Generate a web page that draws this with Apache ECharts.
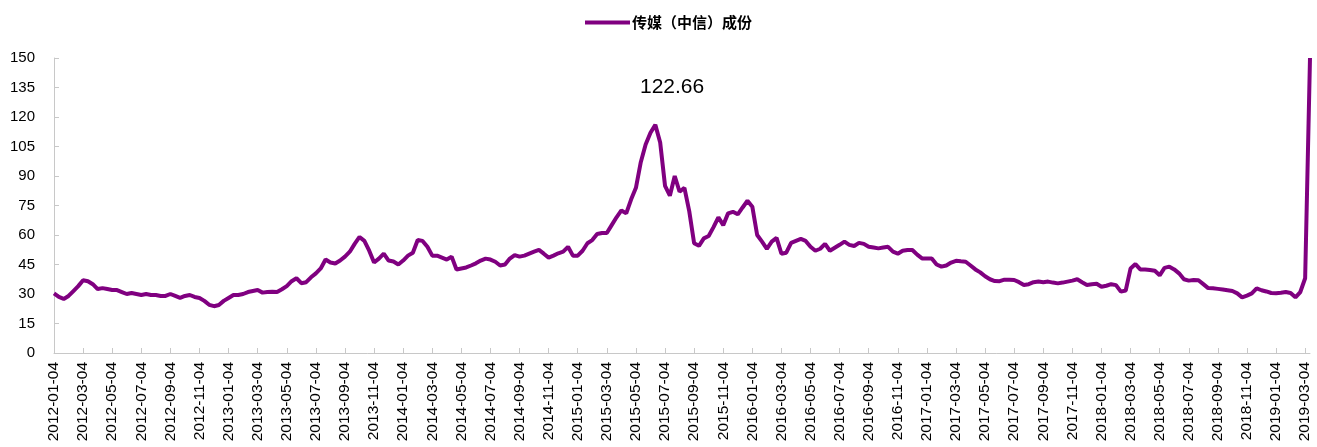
<!DOCTYPE html>
<html>
<head>
<meta charset="utf-8">
<script src="https://cdn.jsdelivr.net/npm/echarts@6/dist/echarts.min.js"></script>
<style>
html,body{margin:0;padding:0;background:#fff;}
#chart{width:1317px;height:447px;}
</style>
</head>
<body>
<div id="chart"></div>
<script>
// Series name
const seriesName = '传媒（中信）成份';
// Peak annotation text
const peakLabel = '122.66';

// Categories: dates on the 4th, 14th and 24th of each month, 2012-01-04 .. 2019-03-14
const categories = [];
(function(){
  const days = ['04','14','24'];
  for (let y = 2012; y <= 2019; y++) {
    for (let m = 1; m <= 12; m++) {
      for (const d of days) {
        const mm = (m < 10 ? '0' : '') + m;
        const s = y + '-' + mm + '-' + d;
        if (s > '2019-03-14') return;
        categories.push(s);
      }
    }
  }
})();

// Tick labels shown on the x axis
const tickLabels = [
  '2012-01-04','2012-03-04','2012-05-04','2012-07-04','2012-09-04','2012-11-04',
  '2013-01-04','2013-03-04','2013-05-04','2013-07-04','2013-09-04','2013-11-04',
  '2014-01-04','2014-03-04','2014-05-04','2014-07-04','2014-09-04','2014-11-04',
  '2015-01-04','2015-03-04','2015-05-04','2015-07-04','2015-09-04','2015-11-04',
  '2016-01-04','2016-03-04','2016-05-04','2016-07-04','2016-09-04','2016-11-04',
  '2017-01-04','2017-03-04','2017-05-04','2017-07-04','2017-09-04','2017-11-04',
  '2018-01-04','2018-03-04','2018-05-04','2018-07-04','2018-09-04','2018-11-04',
  '2019-01-04','2019-03-04'
];

// Values
const values2012_2013 = [
  30.3,28.5,27.5,29,31.5,34,37,36.5,35,32.5,33,32.5,32,32,31,30,30.5,30,29.5,30,
  29.5,29.5,29,29,30,29,28,29,29.5,28.5,28,26.5,24.5,23.8,24.4,26.5,28,29.5,29.5,30,
  31,31.5,32,30.7,31,31.2,31,32.4,34,36.5,38,35.5,36,38.5,40.5,43,47.5,46,45.5,47,
  49,51.5,55.5,59,57,52,46,48,50.5,47,46.5,45
];
const values2014_2015 = [
  47,49.5,51,57.5,57,54,49.5,49.5,48.5,47.5,49,42.5,43,43.5,44.5,45.6,47,48,47.5,46.4,
  44.5,45,48,49.8,49,49.5,50.5,51.5,52.4,50.5,48.5,49.5,50.7,51.5,54,49.5,49.5,52,55.8,57.4,
  60.5,61,61,65,69,72.5,71,78,84,97,106,112,116,107,85,80,90,82,84,72,
  55.8,54.5,58.3,59.5,64,69,65,71,71.8,70.5,74,77.4
];
const values2016_2017 = [
  74.4,60,56.6,53,56.6,58.5,50.5,51,56,57,58,57,54,52,53,55.5,52,53.5,55,56.6,
  55,54.4,56,55.5,54,53.6,53.2,53.6,54,51.5,50.5,52,52.4,52.4,50,48.1,48,48.1,45,43.9,
  44.5,46,46.9,46.6,46.4,44.5,42.5,41,39,37.5,36.6,36.5,37.3,37.2,37.1,36,34.6,35,36,36.3,
  36,36.3,35.8,35.4,35.8,36.3,36.8,37.5,36,34.6,35,35.2
];
const values2018_2019 = [
  33.7,34.2,35,34.5,31.2,31.8,43,45.2,42.5,42.5,42.2,41.8,39.5,43.3,43.9,42.5,40.5,37.5,36.8,37.1,
  37,35,33,32.9,32.6,32.3,31.9,31.5,30.3,28.3,29.2,30.3,32.9,31.9,31.3,30.5,30.4,30.6,31,30.5,
  28.3,31,38,150
];
const values = [].concat(values2012_2013, values2014_2015, values2016_2017, values2018_2019);

// Y axis
const yMin = 0, yMax = 150, yStep = 15;

const chart = echarts.init(document.getElementById('chart'), null, {renderer: 'canvas'});
const isTick = function(index, value){ return tickLabels.indexOf(categories[index]) >= 0; };

chart.setOption({
  animation: false,
  backgroundColor: '#ffffff',
  legend: {
    top: 10,
    left: 580,
    itemWidth: 45,
    itemHeight: 10,
    itemGap: 10,
    textStyle: {fontFamily: 'Noto Sans CJK SC', fontWeight: 'bold', fontSize: 15, color: '#000', padding: [0,0,0,-3]},
    data: [{name: seriesName, icon: 'path://M0,0 L45,0 L45,4 L0,4 Z'}]
  },
  grid: {left: 54, right: 7, top: 58, bottom: 94, containLabel: false},
  xAxis: {
    type: 'category',
    boundaryGap: false,
    data: categories,
    axisLine: {show: true, lineStyle: {color: '#c8c8c8', width: 1}},
    axisTick: {show: true, inside: true, length: 5, interval: isTick, lineStyle: {color: '#c8c8c8'}},
    axisLabel: {
      interval: isTick,
      rotate: 90,
      margin: 9,
      fontFamily: 'Liberation Sans, Arial, sans-serif',
      fontSize: 15.5,
      color: '#000'
    },
    splitLine: {show: false}
  },
  yAxis: {
    type: 'value',
    min: yMin,
    max: yMax,
    interval: yStep,
    axisLine: {show: true, lineStyle: {color: '#c8c8c8', width: 1}},
    axisTick: {show: true, inside: true, length: 5, lineStyle: {color: '#c8c8c8'}},
    axisLabel: {margin: 19, fontFamily: 'Liberation Sans, Arial, sans-serif', fontSize: 15, color: '#000'},
    splitLine: {show: false}
  },
  series: [{
    name: seriesName,
    type: 'line',
    data: values,
    symbol: 'none',
    smooth: false,
    clip: true,
    lineStyle: {color: '#800080', width: 4},
    itemStyle: {color: '#800080'}
  }],
  graphic: [{
    type: 'text',
    left: 640,
    top: 77,
    style: {text: peakLabel, font: '21px "Liberation Sans", Arial, sans-serif', fill: '#000'}
  }]
});
</script>
</body>
</html>
